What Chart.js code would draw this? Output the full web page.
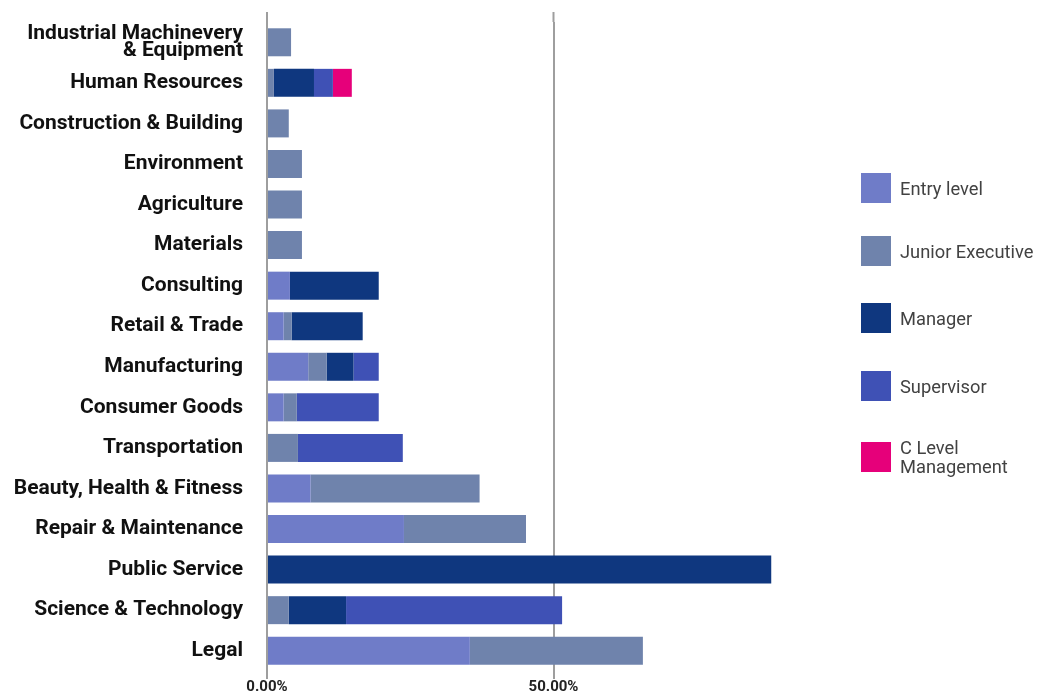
<!DOCTYPE html>
<html>
<head>
<meta charset="utf-8">
<script src="https://cdn.jsdelivr.net/npm/chart.js@4/dist/chart.umd.min.js"></script>
<style>
  html, body { margin: 0; padding: 0; background: #fff; }
  #wrap { position: relative; width: 1041px; height: 696px; }
  #c { position: absolute; left: 0; top: 0; }
  .lg { position: absolute; left: 861px; display: flex; align-items: center; font-family: Roboto, sans-serif; font-size: 18.3px; color: #424242; line-height: 19px; }
  .lg .box { width: 30px; height: 30px; margin-right: 9px; flex: none; }
</style>
</head>
<body>
<div id="wrap">
  <canvas id="c" width="1041" height="696"></canvas>
</div>
<script>
const categories = [
  ["Industrial Machinevery", "& Equipment"],
  "Human Resources",
  "Construction & Building",
  "Environment",
  "Agriculture",
  "Materials",
  "Consulting",
  "Retail & Trade",
  "Manufacturing",
  "Consumer Goods",
  "Transportation",
  "Beauty, Health & Fitness",
  "Repair & Maintenance",
  "Public Service",
  "Science & Technology",
  "Legal"
];
const seriesNames = ["Entry level", "Junior Executive", "Manager", "Supervisor", "C Level Management"];
const entryLevel      = [0,   0,   0,   0,   0,   0,   4.0, 2.9, 7.2, 2.9, 0,    7.6, 23.9, 0,    0,    35.4];
const juniorExecutive = [4.2, 1.2, 3.8, 6.1, 6.1, 6.1, 0,   1.4, 3.2, 2.3, 5.4, 29.5, 21.3, 0,    3.8,  30.2];
const manager         = [0,   7.0, 0,   0,   0,   0,  15.5, 12.4, 4.7, 0,   0,    0,    0,   88.0, 10.0, 0];
const supervisor      = [0,   3.3, 0,   0,   0,   0,   0,   0,   4.4, 14.3, 18.3, 0,    0,    0,   37.7, 0];
const cLevel          = [0,   3.3, 0,   0,   0,   0,   0,   0,   0,   0,    0,    0,    0,    0,    0,    0];
const tickValues = [0, 50];

const colors = ["#6f7cc8", "#6f83ac", "#0f377f", "#3f51b5", "#e6007a"];
const seriesData = [entryLevel, juniorExecutive, manager, supervisor, cLevel];
const legendTops = [173, 236, 303, 371, 438];

const gridExtend = {
  id: 'gridExtend',
  beforeDatasetsDraw(chart) {
    const x = chart.scales.x, ctx = chart.ctx, top = chart.chartArea.top;
    ctx.save();
    ctx.strokeStyle = '#9e9e9e';
    ctx.lineWidth = 2;
    tickValues.forEach(v => {
      const px = x.getPixelForValue(v);
      ctx.beginPath();
      ctx.moveTo(px, top - 10);
      ctx.lineTo(px, top);
      ctx.stroke();
    });
    ctx.restore();
  }
};

new Chart(document.getElementById('c'), {
  type: 'bar',
  data: {
    labels: categories,
    datasets: seriesData.map((d, i) => ({
      label: seriesNames[i],
      data: d,
      backgroundColor: colors[i],
      borderWidth: 0,
      barPercentage: 0.69,
      categoryPercentage: 1.0
    }))
  },
  options: {
    indexAxis: 'y',
    responsive: false,
    animation: false,
    layout: { padding: { top: 22, right: 201, left: 0, bottom: 0 } },
    plugins: { legend: { display: false }, tooltip: { enabled: false } },
    scales: {
      x: {
        stacked: true,
        min: 0,
        max: 100,
        afterBuildTicks: s => { s.ticks = tickValues.map(v => ({ value: v })); },
        grid: { color: '#9e9e9e', lineWidth: 2, drawTicks: true, tickLength: 8 },
        border: { display: false },
        ticks: {
          padding: 1,
          color: '#222',
          font: { family: 'Roboto', size: 15, weight: 'bold', lineHeight: 1.0 },
          callback: v => v.toFixed(2) + '%',
          maxRotation: 0
        }
      },
      y: {
        stacked: true,
        afterFit: s => { s.width = 267; },
        grid: { display: false, drawTicks: true, tickLength: 24 },
        border: { display: false },
        ticks: {
          padding: 0,
          autoSkip: false,
          color: '#111',
          font: { family: 'Roboto', size: 21, weight: 'bold', lineHeight: 0.81 }
        }
      }
    }
  },
  plugins: [gridExtend]
});

const wrap = document.getElementById('wrap');
seriesNames.forEach((n, i) => {
  const d = document.createElement('div');
  d.className = 'lg';
  d.style.top = legendTops[i] + 'px';
  const b = document.createElement('div');
  b.className = 'box';
  b.style.background = colors[i];
  const t = document.createElement('div');
  t.innerHTML = n === "C Level Management" ? "C Level<br>Management" : n;
  d.appendChild(b); d.appendChild(t);
  wrap.appendChild(d);
});
</script>
</body>
</html>
